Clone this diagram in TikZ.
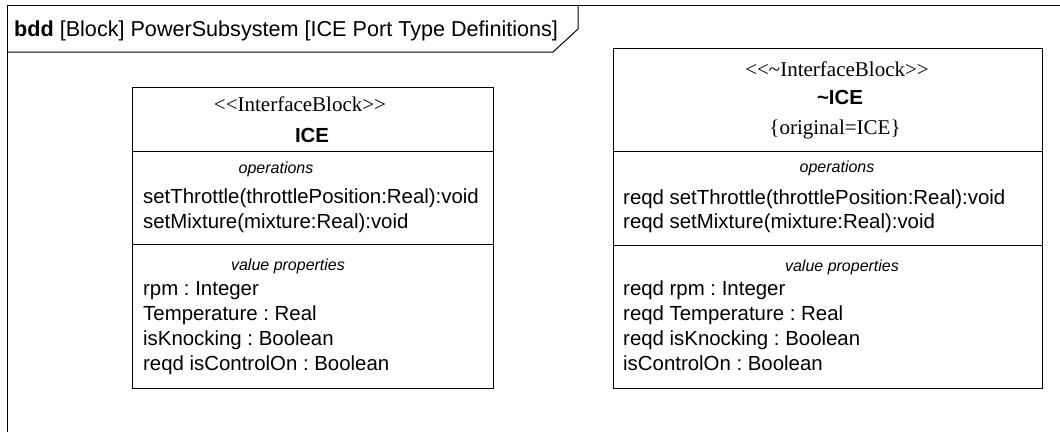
\documentclass[tikz,border=0pt]{standalone}
\usepackage{fontspec}
\setmainfont{Liberation Serif}
\setsansfont{Liberation Sans}
\newcommand\lgl{<\kern0pt<}
\newcommand\rgl{>\kern0pt>}
\frenchspacing
\begin{document}
\begin{tikzpicture}[x=1pt,y=-1pt,
  frameline/.style={draw=black,line width=1pt},
  boxshape/.style={draw=black,line width=1pt,rectangle,inner sep=0pt,anchor=north west},
  sepline/.style={draw=black,line width=1pt},
  txt/.style={inner sep=0pt,anchor=base west,font=\sffamily\fontsize{20.4}{24}\selectfont},
  cmp/.style={inner sep=0pt,anchor=base,font=\sffamily\itshape\fontsize{16}{19}\selectfont},
  stereo/.style={inner sep=0pt,anchor=base,font=\rmfamily\fontsize{21}{25}\selectfont},
  bname/.style={inner sep=0pt,anchor=base,font=\sffamily\bfseries\fontsize{20.4}{24}\selectfont}]
\useasboundingbox (0,0) rectangle (1060,432);
% frame
\draw[frameline] (1060,5) -- (7,5) -- (7,432);
\draw[frameline] (7,52) -- (553,52) -- (578,29) -- (578,5);
\node[inner sep=0pt,anchor=base west,font=\sffamily\fontsize{21.6}{25}\selectfont] (title) at (14,36)
  {\textbf{bdd} [Block] PowerSubsystem [ICE Port Type Definitions]};
% ICE block
\node[boxshape,minimum width=361pt,minimum height=301pt] (ice) at (132,87) {};
\draw[sepline] (132,151) -- (493,151);
\draw[sepline] (132,244) -- (493,244);
\node[stereo] (iceSt) at (300,111) {\lgl InterfaceBlock\rgl};
\node[bname] (iceName) at (312,142) {ICE};
\node[cmp] (iceOps) at (276,173) {operations};
\node[txt] (iceOp1) at (143,203) {setThrottle(throttlePosition:Real):void};
\node[txt] (iceOp2) at (143,228) {setMixture(mixture:Real):void};
\node[cmp] (iceVals) at (288,270) {value properties};
\node[txt] (iceV1) at (143,295) {rpm : Integer};
\node[txt] (iceV2) at (143,320) {Temperature : Real};
\node[txt] (iceV3) at (143,345) {isKnocking : Boolean};
\node[txt] (iceV4) at (143,370) {reqd isControlOn : Boolean};
% ~ICE block
\node[boxshape,minimum width=429pt,minimum height=340pt] (conj) at (613,48) {};
\draw[sepline] (613,151) -- (1042,151);
\draw[sepline] (613,245) -- (1042,245);
\node[stereo] (conjSt) at (837,76) {\lgl\textasciitilde InterfaceBlock\rgl};
\node[bname] (conjName) at (840,104) {\textasciitilde ICE};
\node[stereo] (conjOrig) at (835,134) {\{original=ICE\}};
\node[cmp] (conjOps) at (837,172) {operations};
\node[txt] (conjOp1) at (623,204) {reqd setThrottle(throttlePosition:Real):void};
\node[txt] (conjOp2) at (623,228) {reqd setMixture(mixture:Real):void};
\node[cmp] (conjVals) at (842,271) {value properties};
\node[txt] (conjV1) at (623,295) {reqd rpm : Integer};
\node[txt] (conjV2) at (623,320) {reqd Temperature : Real};
\node[txt] (conjV3) at (623,345) {reqd isKnocking : Boolean};
\node[txt] (conjV4) at (623,370) {isControlOn : Boolean};
\end{tikzpicture}
\end{document}
